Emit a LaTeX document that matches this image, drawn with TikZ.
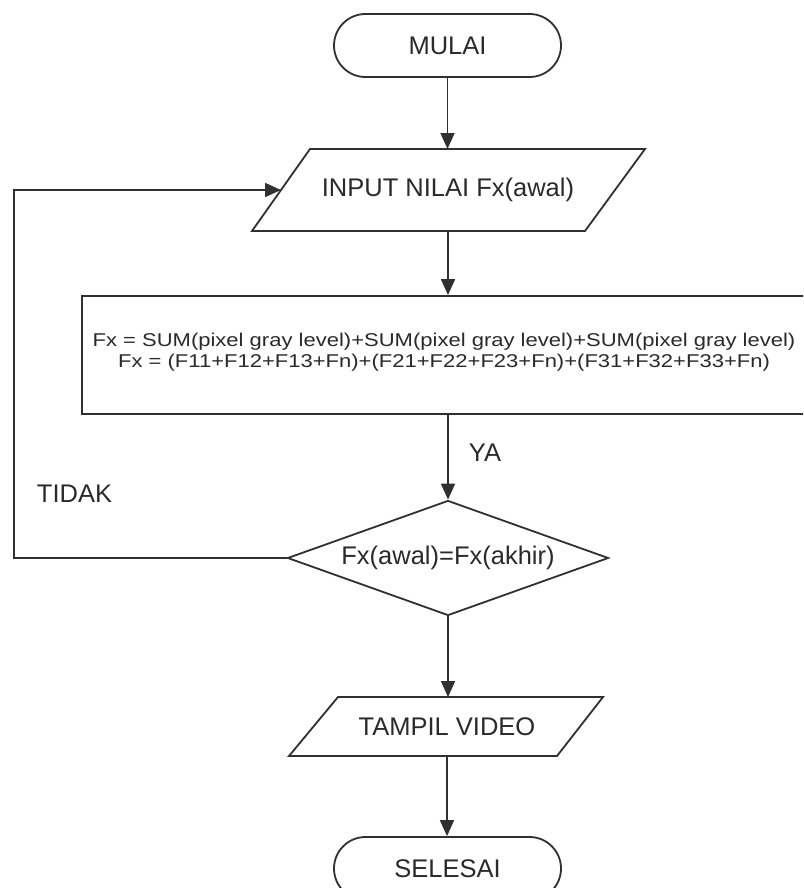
\documentclass[tikz,border=0pt]{standalone}
\usepackage{fontspec}
\usepackage{graphicx}
\setmainfont{Liberation Sans}
\usetikzlibrary{shapes.misc,shapes.geometric,arrows.meta}
\definecolor{ln}{HTML}{303030}
\definecolor{tx}{HTML}{2A2A2A}
\tikzset{
  every node/.style={text=tx, font=\fontsize{25.5}{28}\selectfont},
  lw/.style={draw=ln, line width=1.8pt},
  term/.style={lw, rounded rectangle, minimum width=227pt, minimum height=63pt, inner sep=0pt},
  iobox/.style={inner sep=0pt, outer sep=0pt},
  procbox/.style={lw, rectangle, minimum width=732pt, minimum height=118pt, inner sep=0pt},
  decbox/.style={lw, diamond, aspect=2.79, minimum width=321pt, minimum height=115pt, inner sep=0pt},
  arr/.style={draw=ln, line width=1.8pt, -{Triangle[length=16pt,width=14pt]}},
  lbl/.style={text=tx, font=\fontsize{25.5}{28}\selectfont}
}
\begin{document}
\begin{tikzpicture}[x=1pt,y=-1pt]
\path[use as bounding box, clip] (0,0) rectangle (803,888);
\fill[white] (0,0) rectangle (803,888);

% MULAI
\node[term] (mulai) at (447.5,45.5) {MULAI};

% INPUT parallelogram
\draw[lw] (310,149) -- (645,149) -- (585,231) -- (252,231) -- cycle;
\node[iobox, minimum width=334pt, minimum height=82pt] (input) at (448,190) {INPUT NILAI Fx(awal)};

% process box
\node[procbox] (proc) at (448,355) {};
\node[inner sep=0pt] (proctext) at (444,352.5) {\fontsize{18.5}{21}\selectfont\scalebox{1.19}[1]{\begin{tabular}{@{}c@{}}Fx = SUM(pixel gray level)+SUM(pixel gray level)+SUM(pixel gray level)\\[0pt]Fx = (F11+F12+F13+Fn)+(F21+F22+F23+Fn)+(F31+F32+F33+Fn)\end{tabular}}};

% decision
\node[decbox] (dec) at (448,558) {Fx(awal)=Fx(akhir)};

% TAMPIL VIDEO parallelogram
\draw[lw] (338,697) -- (603,697) -- (557,756) -- (289,756) -- cycle;
\node[iobox, minimum width=266pt, minimum height=59pt] (tampil) at (447,726.5) {TAMPIL VIDEO};

% SELESAI
\node[term] (selesai) at (447.5,868.5) {SELESAI};

% connectors
\coordinate (lp) at (14,558);
\draw[arr] (mulai.south) -- (input.north -| mulai.south);
\draw[arr] (input.south) -- (proc.north -| input.south);
\draw[arr] (proc.south -| dec.north) -- (dec.north);
\draw[arr] (dec.west) -- (lp) |- (input.west);
\draw[arr] (dec.south) -- (tampil.north -| dec.south);
\draw[arr] (tampil.south) -- (selesai.north -| tampil.south);

% labels
\node[lbl] (ya) at (485,453) {YA};
\node[lbl] (tidak) at (74.5,494) {TIDAK};
\end{tikzpicture}
\end{document}
